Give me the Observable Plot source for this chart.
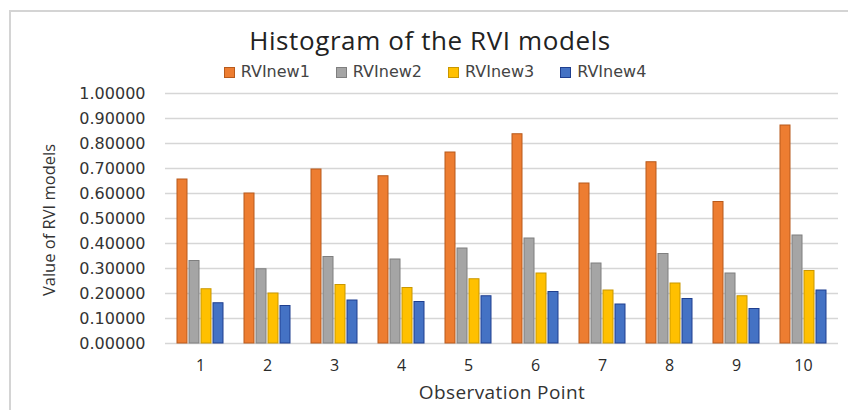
<!DOCTYPE html>
<html>
<head>
<meta charset="utf-8">
<script src="https://cdn.jsdelivr.net/npm/d3@7"></script>
<script src="https://cdn.jsdelivr.net/npm/@observablehq/plot@0.6"></script>
<style>
  html, body { margin: 0; padding: 0; background: #fff; }
  #wrap { position: relative; width: 848px; height: 410px; overflow: hidden; background: #fff; }
  #frame { position: absolute; left: 9px; top: 10px; width: 850px; height: 410px;
           border-top: 2px solid #d4d4d4; border-left: 2px solid #d4d4d4; box-sizing: border-box; }
  .layer { position: absolute; left: 0; top: 0; }
  #title { position: absolute; left: 0; width: 860px; top: 23px; text-align: center;
           font-family: "Open Sans", sans-serif; font-size: 26px; letter-spacing: 0.6px; color: #222; line-height: 34px; }
  #legend { position: absolute; left: 0; width: 870px; top: 62px; display: flex; justify-content: center;
            gap: 26px; font-family: "DejaVu Sans", sans-serif; font-size: 16px; color: #444; line-height: 20px; }
  #legend .item { display: flex; align-items: center; }
  #legend .sw { width: 9px; height: 9px; margin-right: 6px; border: 1px solid; }
  #ytitle { position: absolute; left: 48px; top: 220px; transform: translate(-50%, -50%) rotate(-90deg);
            white-space: nowrap; font-family: "Open Sans", sans-serif; font-size: 16.5px; color: #333; }
  #xtitle { position: absolute; left: 0; width: 1004px; top: 379px; text-align: center;
            font-family: "Open Sans", sans-serif; font-size: 19px; letter-spacing: 0.4px; color: #333; line-height: 26px; }
</style>
</head>
<body>
<div id="wrap">
  <div id="bg" class="layer"></div>
  <div id="fg" class="layer"></div>
  <div id="frame"></div>
  <div id="title">Histogram of the RVI models</div>
  <div id="legend"></div>
  <div id="ytitle">Value of RVI models</div>
  <div id="xtitle">Observation Point</div>
</div>
<script>
// ---- data ----
const observationPoints = [1, 2, 3, 4, 5, 6, 7, 8, 9, 10];
const seriesNames = ["RVInew1", "RVInew2", "RVInew3", "RVInew4"];
const RVInew1 = [0.656, 0.600, 0.696, 0.669, 0.764, 0.837, 0.640, 0.725, 0.566, 0.872];
const RVInew2 = [0.330, 0.297, 0.346, 0.336, 0.380, 0.420, 0.320, 0.358, 0.280, 0.432];
const RVInew3 = [0.217, 0.200, 0.234, 0.222, 0.257, 0.280, 0.212, 0.240, 0.189, 0.290];
const RVInew4 = [0.161, 0.150, 0.172, 0.166, 0.189, 0.206, 0.156, 0.178, 0.138, 0.212];
const yTicks = [0, 0.1, 0.2, 0.3, 0.4, 0.5, 0.6, 0.7, 0.8, 0.9, 1.0];
const fillColors = ["#ED7D31", "#A5A5A5", "#FFC000", "#4472C4"];
const strokeColors = ["#B85A1C", "#7F7F7F", "#C99700", "#1F3F8F"];

const seriesValues = [RVInew1, RVInew2, RVInew3, RVInew4];
const rows = [];
seriesNames.forEach((s, i) => {
  observationPoints.forEach((p, j) => rows.push({obs: p, series: s, value: seriesValues[i][j]}));
});
const fillOf = Object.fromEntries(seriesNames.map((s, i) => [s, fillColors[i]]));
const strokeOf = Object.fromEntries(seriesNames.map((s, i) => [s, strokeColors[i]]));

const W = 848, H = 410;
const margins = {marginLeft: 165, marginRight: 10, marginTop: 93, marginBottom: 67};

// background: grid + y axis
const bg = Plot.plot({
  width: W, height: H, ...margins,
  style: {fontFamily: "DejaVu Sans, sans-serif", fontSize: "16px", color: "#333", background: "transparent"},
  x: {axis: null, domain: [0, 1]},
  y: {domain: [0, 1], ticks: yTicks, tickFormat: d3.format(".5f"), tickSize: 0, tickPadding: 20, label: null},
  marks: [
    Plot.ruleY(yTicks, {stroke: "#d6d6d6", strokeWidth: 1.6})
  ]
});
document.getElementById("bg").appendChild(bg);

// foreground: grouped bars
const fg = Plot.plot({
  width: W, height: H, ...margins,
  style: {fontFamily: "Open Sans, sans-serif", fontSize: "16px", color: "#2a2a2a", background: "transparent"},
  fx: {domain: observationPoints, paddingInner: 0.317, paddingOuter: 0.158, axis: "bottom", tickSize: 0, tickPadding: 16, label: null},
  x: {domain: seriesNames, paddingInner: 0.17, paddingOuter: 0, axis: null},
  y: {domain: [0, 1], axis: null},
  color: {type: "identity"},
  marks: [
    Plot.barY(rows, {fx: "obs", x: "series", y: "value",
      fill: d => fillOf[d.series], stroke: d => strokeOf[d.series], strokeWidth: 1})
  ]
});
document.getElementById("fg").appendChild(fg);

// legend
const legend = document.getElementById("legend");
seriesNames.forEach((s, i) => {
  const item = document.createElement("div");
  item.className = "item";
  const sw = document.createElement("span");
  sw.className = "sw";
  sw.style.background = fillColors[i];
  sw.style.borderColor = strokeColors[i];
  const t = document.createElement("span");
  t.textContent = s;
  item.appendChild(sw); item.appendChild(t);
  legend.appendChild(item);
});
</script>
</body>
</html>
